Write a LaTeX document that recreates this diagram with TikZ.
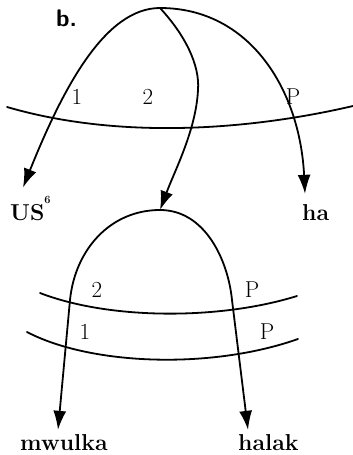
\documentclass[tikz,border=0pt]{standalone}
\usetikzlibrary{arrows.meta, positioning}
\tikzset{
  ln/.style={line width=1.8pt, line cap=round, line join=round},
  arr/.style={ln, -{Latex[length=19pt,width=13pt]}},
  word/.style={font=\fontsize{23}{25}\selectfont\bfseries, inner sep=0pt, anchor=base west},
  tag/.style={font=\fontsize{23}{25}\selectfont, inner sep=0pt}
}

\begin{document}
\begin{tikzpicture}[x=1pt, y=-1pt]
  \useasboundingbox (0,0) rectangle (353,455);
  \node[word, font=\fontsize{24}{26}\selectfont\sffamily\bfseries] (part) at (56,27) {b.};
  % upper tree
  \coordinate (top) at (160,8);
  \node[word] (us) at (10,220) {US\raisebox{17pt}{\fontsize{11}{11}\selectfont\bfseries 6}};
  \node[word] (ha) at (302,220) {ha};
  \coordinate (mid) at (160,210);
  \draw[arr] (top) .. controls (105,8) and (63,88) .. ([xshift=13pt,yshift=8pt]us.north west);
  \draw[arr] (top) .. controls (250,8) and (300,90) .. ([xshift=3pt,yshift=10pt]ha.north west);
  \draw[arr] (top) .. controls (185,35) and (200,65) .. (198,90)
                   .. controls (196,130) and (175,170) .. (mid);
  \coordinate (upL) at (7,107);
  \coordinate (upR) at (353,106);
  \draw[ln] (upL) .. controls (120,140) and (250,130) .. (upR);
  \node[tag] (u1) at (77,97) {1};
  \node[tag] (u2) at (148,97) {2};
  \node[tag] (uP) at (293,97) {P};
  % lower tree
  \node[word] (mw) at (20,450) {mwulka};
  \node[word] (hal) at (238,450) {halak};
  \draw[arr] (mid) .. controls (110,210) and (75,250) .. (70,300) -- ([xshift=38pt,yshift=4pt]mw.north west);
  \draw[arr] (mid) .. controls (205,210) and (228,260) .. (232,300) -- ([xshift=10pt,yshift=4pt]hal.north west);
  \coordinate (aL) at (40,293);
  \coordinate (aR) at (297,296);
  \draw[ln] (aL) .. controls (110,320) and (220,320) .. (aR);
  \coordinate (bL) at (27,332);
  \coordinate (bR) at (298,339);
  \draw[ln] (bL) .. controls (90,365) and (210,370) .. (bR);
  \node[tag] (l2) at (97,290) {2};
  \node[tag] (lP2) at (252,290) {P};
  \node[tag] (l1) at (85,332) {1};
  \node[tag] (lP1) at (267,332) {P};
\end{tikzpicture}
\end{document}
